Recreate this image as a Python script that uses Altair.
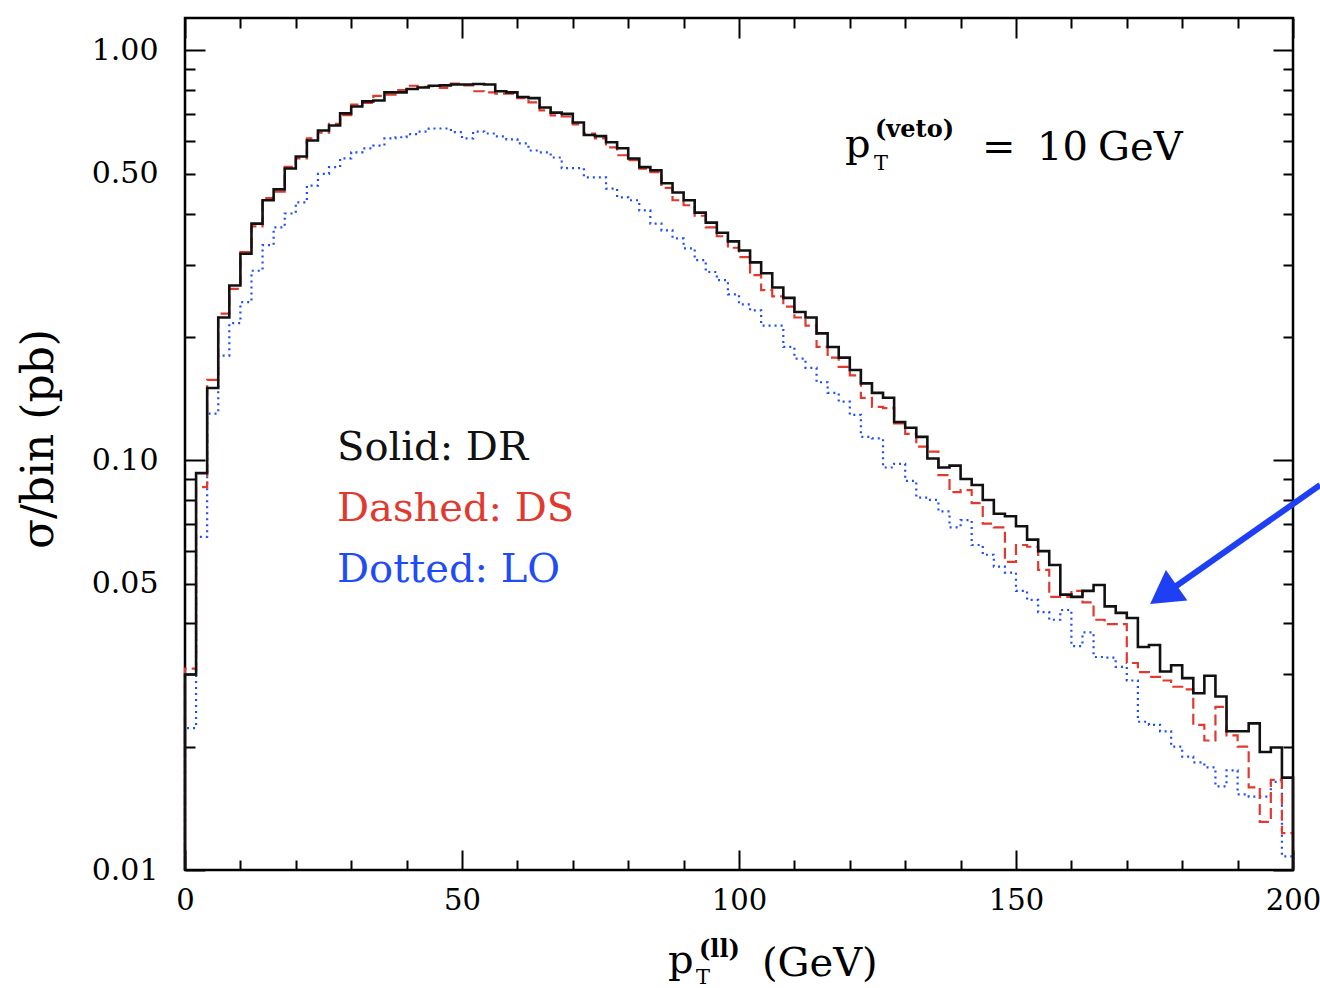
import altair as alt
import pandas as pd

SERIF = "DejaVu Serif"

# ---------------- data ----------------
bin_lo = list(range(0, 200, 2))  # 2 GeV bins, lower edges

dr = [0.030, 0.093, 0.150, 0.223, 0.267, 0.319, 0.378, 0.431, 0.458, 0.515,
      0.551, 0.603, 0.638, 0.656, 0.702, 0.730, 0.751, 0.755, 0.790, 0.790,
      0.805, 0.812, 0.820, 0.822, 0.826, 0.826, 0.828, 0.826, 0.795, 0.790,
      0.770, 0.765, 0.726, 0.705, 0.700, 0.667, 0.622, 0.618, 0.597, 0.577,
      0.545, 0.519, 0.510, 0.474, 0.450, 0.431, 0.402, 0.380, 0.359, 0.342,
      0.325, 0.304, 0.286, 0.264, 0.249, 0.230, 0.223, 0.204, 0.189, 0.178,
      0.166, 0.154, 0.146, 0.142, 0.124, 0.120, 0.114, 0.101, 0.096, 0.097,
      0.090, 0.087, 0.080, 0.074, 0.073, 0.069, 0.064, 0.060, 0.0555, 0.047,
      0.0464, 0.048, 0.0496, 0.044, 0.0424, 0.0412, 0.035, 0.0354, 0.0305, 0.0316,
      0.0294, 0.0270, 0.0298, 0.0265, 0.0218, 0.0218, 0.0228, 0.0194, 0.0199, 0.0168]

ds = [0.031, 0.086, 0.157, 0.228, 0.262, 0.322, 0.372, 0.436, 0.452, 0.520,
      0.545, 0.610, 0.630, 0.662, 0.695, 0.738, 0.745, 0.775, 0.780, 0.800,
      0.820, 0.815, 0.818, 0.810, 0.830, 0.822, 0.795, 0.790, 0.785, 0.785,
      0.765, 0.747, 0.714, 0.694, 0.690, 0.660, 0.627, 0.610, 0.580, 0.555,
      0.540, 0.515, 0.505, 0.462, 0.431, 0.419, 0.395, 0.370, 0.352, 0.330,
      0.313, 0.283, 0.260, 0.251, 0.237, 0.223, 0.213, 0.189, 0.178, 0.169,
      0.161, 0.142, 0.135, 0.134, 0.123, 0.116, 0.108, 0.105, 0.092, 0.0836,
      0.0845, 0.0786, 0.070, 0.0686, 0.0565, 0.0621, 0.0615, 0.0540, 0.0464, 0.0464,
      0.048, 0.045, 0.0408, 0.0398, 0.0398, 0.032, 0.0304, 0.0296, 0.0290, 0.0280,
      0.0276, 0.0226, 0.0207, 0.0250, 0.0213, 0.0200, 0.0159, 0.0131, 0.0166, 0.0123]

lo = [0.0222, 0.065, 0.130, 0.180, 0.216, 0.243, 0.290, 0.335, 0.370, 0.400,
      0.426, 0.468, 0.500, 0.519, 0.545, 0.564, 0.577, 0.586, 0.610, 0.614,
      0.625, 0.634, 0.645, 0.645, 0.632, 0.610, 0.634, 0.627, 0.617, 0.607,
      0.593, 0.570, 0.564, 0.548, 0.516, 0.516, 0.490, 0.490, 0.460, 0.438,
      0.431, 0.407, 0.378, 0.364, 0.348, 0.329, 0.308, 0.288, 0.275, 0.254,
      0.240, 0.232, 0.213, 0.213, 0.189, 0.177, 0.168, 0.155, 0.146, 0.139,
      0.129, 0.114, 0.113, 0.096, 0.098, 0.089, 0.081, 0.080, 0.075, 0.0686,
      0.0714, 0.0621, 0.0588, 0.055, 0.0532, 0.048, 0.0456, 0.0426, 0.0408, 0.0431,
      0.0352, 0.038, 0.0331, 0.033, 0.0313, 0.0290, 0.0230, 0.0226, 0.0218, 0.0200,
      0.0189, 0.0183, 0.0178, 0.0160, 0.0175, 0.0153, 0.0151, 0.0151, 0.0164, 0.0108]

x_major = [0, 50, 100, 150, 200]
x_minor = [10, 20, 30, 40, 60, 70, 80, 90, 110, 120, 130, 140, 160, 170, 180, 190]
y_labels = [0.01, 0.05, 0.1, 0.5, 1.0]
y_major = [0.01, 0.1, 1.0]
y_minor = [0.02, 0.03, 0.04, 0.05, 0.06, 0.07, 0.08, 0.09,
           0.2, 0.3, 0.4, 0.5, 0.6, 0.7, 0.8, 0.9]

legend_text = ["Solid: DR", "Dashed: DS", "Dotted: LO"]
legend_color = ["#111111", "#e2392f", "#1e4cf6"]

arrow_pts = pd.DataFrame({"x": [204.9], "y": [0.087], "x2": [176.8], "y2": [0.0471]})
arrow_tip = pd.DataFrame({"x": [176.6], "y": [0.0470]})

# ---------------- helpers ----------------
X_MIN, X_MAX = 0, 200
Y_MIN, Y_MAX = 0.01, 1.2


def step_frame(vals):
    xs = [X_MIN] + bin_lo + [X_MAX, X_MAX]
    ys = [Y_MIN] + vals + [vals[-1], Y_MIN]
    return pd.DataFrame({"x": xs, "y": ys, "i": list(range(len(xs)))})


xscale = alt.Scale(domain=[X_MIN, X_MAX], nice=False, zero=False)
yscale = alt.Scale(type="log", domain=[Y_MIN, Y_MAX], nice=False)


def tick_axis(orient, values, size):
    return alt.Axis(orient=orient, values=values, labels=False, domain=False,
                    grid=False, ticks=True, tickSize=size, tickWidth=2,
                    tickColor="black", offset=-size, title=None)


ax_bottom_lab = alt.Axis(orient="bottom", values=x_major, ticks=False, tickSize=0,
                         domain=False, grid=False, labelFont=SERIF, labelFontSize=29,
                         labelColor="black", labelPadding=16, labelFlush=False,
                         labelOverlap=False, labelBound=False, title=None)
ax_left_lab = alt.Axis(orient="left", values=y_labels, ticks=False, tickSize=0,
                       domain=False, grid=False, labelFont=SERIF, labelFontSize=30,
                       labelColor="black", labelPadding=27, format=".2f",
                       labelFlush=False, labelOverlap=False, title=None)


def line_layer(vals, color, dash, width, xaxis, yaxis, opacity=1.0):
    kw = dict(color=color, strokeWidth=width, interpolate="step-after",
              opacity=opacity, strokeJoin="miter", strokeCap="butt")
    if dash:
        kw["strokeDash"] = dash
    return alt.Chart(step_frame(vals)).mark_line(**kw).encode(
        x=alt.X("x:Q", scale=xscale, axis=xaxis),
        y=alt.Y("y:Q", scale=yscale, axis=yaxis),
        order=alt.Order("i:Q"),
    )


def txt(s, x, y, size, color="black", weight="normal", angle=0,
        align="left", baseline="alphabetic"):
    return alt.Chart(pd.DataFrame({"t": [s]})).mark_text(
        font=SERIF, fontSize=size, color=color, fontWeight=weight,
        angle=angle, align=align, baseline=baseline,
    ).encode(text="t:N", x=alt.value(x), y=alt.value(y))


# ---------------- layers ----------------
lo_layer = line_layer(lo, legend_color[2], [2, 4], 2.2,
                      tick_axis("bottom", x_minor, 10), tick_axis("left", y_minor, 10))
ds_layer = line_layer(ds, legend_color[1], [11, 5], 2.2,
                      tick_axis("bottom", x_major, 20), tick_axis("left", y_major, 20))
dr_layer = line_layer(dr, "#111111", None, 2.6, ax_bottom_lab, ax_left_lab)
top_major = line_layer(dr, "#111111", None, 1, tick_axis("top", x_major, 20),
                       tick_axis("right", y_major, 20), opacity=0)
top_minor = line_layer(dr, "#111111", None, 1, tick_axis("top", x_minor, 10),
                       tick_axis("right", y_minor, 10), opacity=0)

arrow_line = alt.Chart(arrow_pts).mark_rule(color="#1f3ff5", strokeWidth=6).encode(
    x=alt.X("x:Q", scale=xscale, axis=None),
    y=alt.Y("y:Q", scale=yscale, axis=None),
    x2="x2:Q", y2="y2:Q",
)
arrow_head = alt.Chart(arrow_tip).mark_point(
    shape="triangle-up", size=1400, angle=235, filled=True, color="#1f3ff5",
    opacity=1, strokeWidth=0,
).encode(
    x=alt.X("x:Q", scale=xscale, axis=None),
    y=alt.Y("y:Q", scale=yscale, axis=None),
)

texts = [
    txt(legend_text[0], 152, 442, 40, legend_color[0]),
    txt(legend_text[1], 152, 503, 40, legend_color[1]),
    txt(legend_text[2], 152, 564, 40, legend_color[2]),
    # p_T^(veto) = 10 GeV
    txt("p", 660, 139, 40),
    txt("T", 689, 152, 21),
    txt("(veto)", 690, 119, 24, weight="bold"),
    txt("=", 797, 142, 40),
    txt("10", 852, 142, 40),
    txt("GeV", 913, 142, 40),
    # x-axis title p_T^(ll) (GeV)
    txt("p", 483, 955, 40),
    txt("T", 511, 966, 21),
    txt("(ll)", 514, 939, 24, weight="bold"),
    txt("(GeV)", 577, 958, 40),
    # y-axis title
    txt("σ/bin  (pb)", -145, 421, 44, angle=270, align="center", baseline="middle"),
]

chart = alt.layer(
    top_minor, top_major, lo_layer, ds_layer, dr_layer,
    arrow_line, arrow_head, *texts,
).resolve_axis(x="independent", y="independent").properties(
    width=1108, height=852,
    padding={"left": 185, "top": 18, "right": 27, "bottom": 118},
    autosize="none", background="white",
).configure_view(stroke="black", strokeWidth=2.5)

chart.save("out.html", embed_options={"renderer": "svg", "actions": False})
